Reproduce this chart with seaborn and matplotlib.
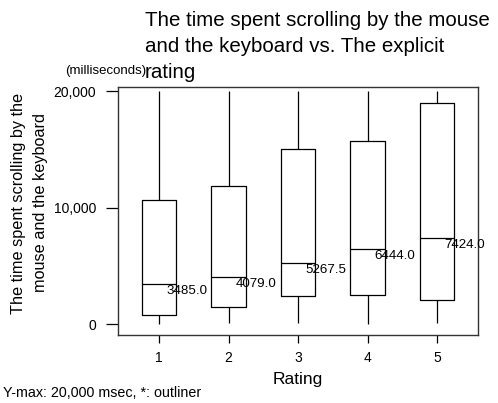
import matplotlib
matplotlib.use("Agg")
import matplotlib.pyplot as plt
import matplotlib.ticker as mticker
import numpy as np
import pandas as pd
import seaborn as sns

# Data (five-number summaries per rating, in msec)
ratings = ["1", "2", "3", "4", "5"]
whisker_low = [0, 140, 85, 0, 85]
q1 = [771, 1510, 2425, 2485, 2082]
medians = [3485.0, 4079.0, 5267.5, 6444.0, 7424.0]
q3 = [10626, 11851, 15047, 15733, 18990]
whisker_high = [20000, 20000, 20000, 20000, 20000]
y_ticks = [0, 10000, 20000]

rows = []
for r, a, b, c, d, e in zip(ratings, whisker_low, q1, medians, q3, whisker_high):
    for v in (a, b, c, d, e):
        rows.append({"Rating": r, "Time": v})
df = pd.DataFrame(rows)

sns.set_theme(style="white")
plt.rcParams["font.family"] = ["Liberation Sans", "DejaVu Sans"]
for k in ("text.color", "axes.labelcolor", "xtick.color", "ytick.color"):
    plt.rcParams[k] = "black"

fig = plt.figure(figsize=(4.98, 4.03), dpi=100)
ax = fig.add_axes([0.237, 0.169, 0.723, 0.615])

line_kw = dict(color="black", linewidth=0.9)
sns.boxplot(data=df, x="Rating", y="Time", order=ratings, ax=ax, width=0.5,
            whis=(0, 100), fill=False, color="black", linewidth=0.9,
            showcaps=False, medianprops=line_kw, boxprops=line_kw,
            whiskerprops=line_kw)
for pat in ax.patches:
    pat.set_facecolor("white")

for i, m in enumerate(medians):
    ax.annotate(f"{m:.1f}", xy=(i, m), xytext=(7, -7), textcoords="offset pixels",
                ha="left", va="center", fontsize=9.6, color="black")

ax.set_xlim(-0.59, 4.59)
ax.set_ylim(-917, 20343)
ax.set_yticks(y_ticks)
ax.yaxis.set_major_formatter(mticker.FuncFormatter(lambda v, p: f"{int(v):,}"))
ax.tick_params(axis="y", which="major", left=True, length=8.6, width=0.9,
               labelsize=10, pad=7, color="black")
ax.tick_params(axis="x", which="major", bottom=True, length=5.8, width=0.9,
               labelsize=10, pad=6, color="black")
for s in ax.spines.values():
    s.set_visible(True)
    s.set_color("#333333")
    s.set_linewidth(1.0)

ax.set_xlabel("Rating", fontsize=12.5, labelpad=5)
ax.set_ylabel("")

fig.text(29.5 / 498, 1 - 203 / 403, "The time spent scrolling by the\nmouse and the keyboard",
         rotation=90, ha="center", va="center", fontsize=11.7, linespacing=1.5)
fig.text(145 / 498, 1 - 11 / 403,
         "The time spent scrolling by the mouse\nand the keyboard vs. The explicit\nrating",
         ha="left", va="top", fontsize=14.8, linespacing=1.45)
fig.text(65 / 498, 1 - 71 / 403, "(milliseconds)", ha="left", va="center", fontsize=9.5)
fig.text(3 / 498, 1 - 393 / 403, "Y-max: 20,000 msec, *: outliner", ha="left",
         va="center", fontsize=10.3)

fig.savefig("out.png", dpi=100)
